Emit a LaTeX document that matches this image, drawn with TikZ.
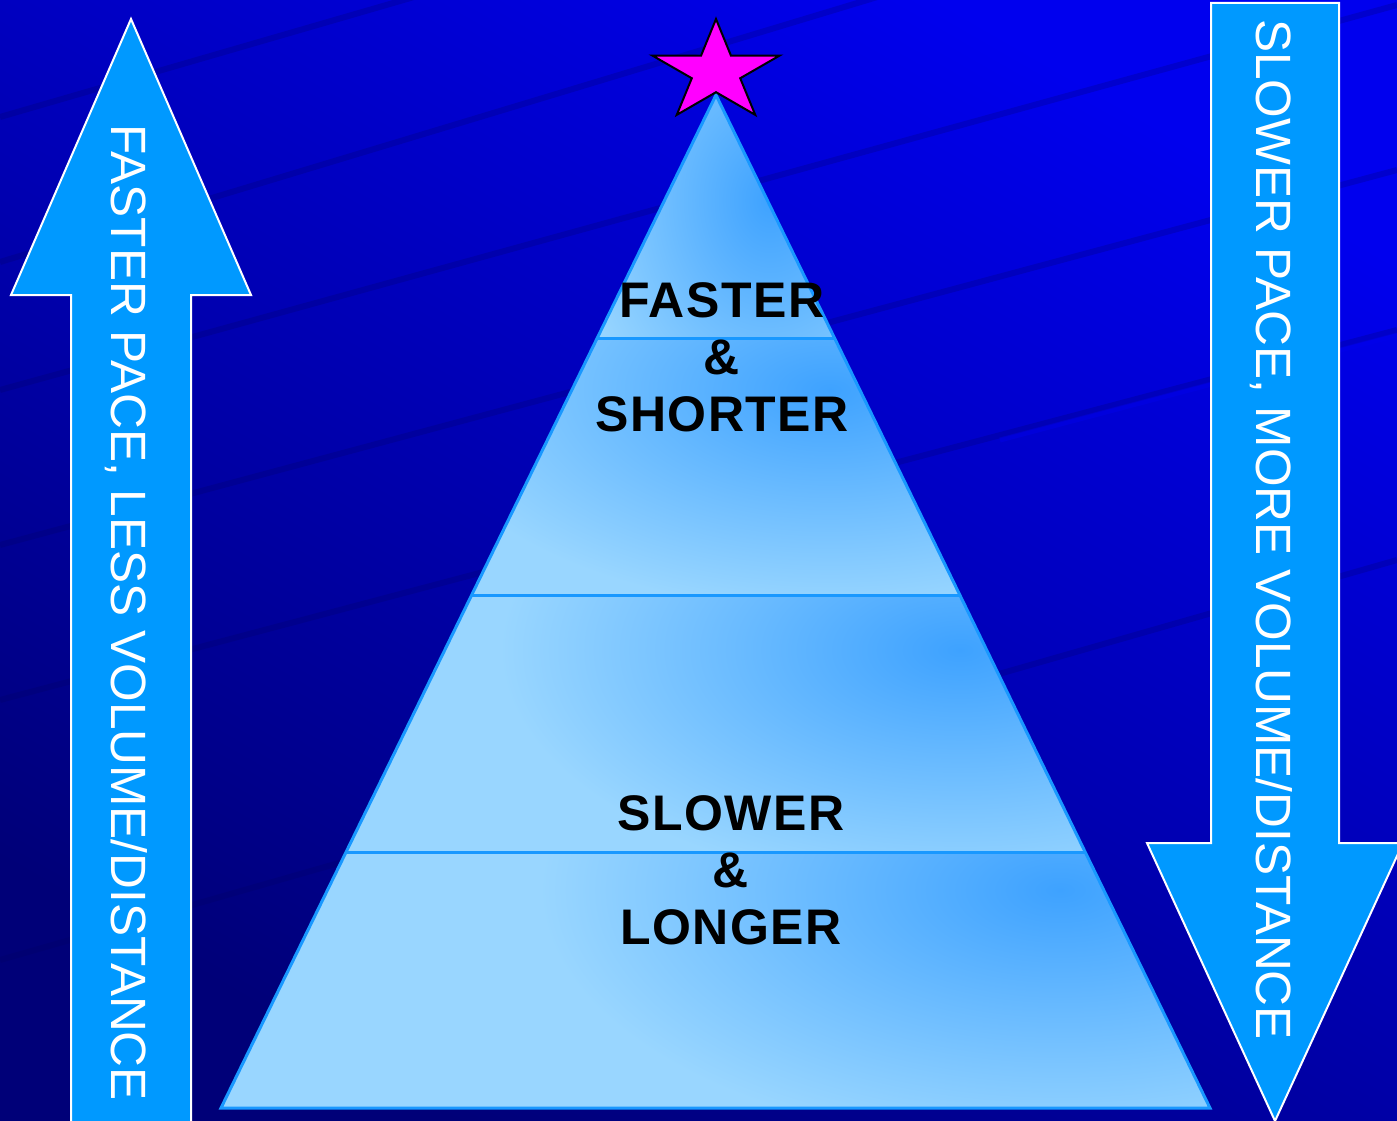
\documentclass[tikz,border=0pt]{standalone}
\usepackage{fontspec}
\setmainfont{Liberation Sans}
\usetikzlibrary{calc}
\definecolor{bgtop}{RGB}{0,0,238}
\definecolor{bgbot}{RGB}{0,0,120}
\definecolor{stripe}{RGB}{0,0,95}
\definecolor{arrowblue}{RGB}{0,153,255}
\definecolor{pyrlight}{RGB}{153,214,255}
\definecolor{pyrdark}{RGB}{62,162,255}
\definecolor{pyredge}{RGB}{25,152,255}
\definecolor{starpink}{RGB}{255,0,255}
\begin{document}
\begin{tikzpicture}[x=1pt,y=-1pt,
  bigarrow/.style={fill=arrowblue,draw=white,line width=2pt,line join=miter},
  sidetext/.style={white,rotate=-90,inner sep=0pt,font=\fontsize{49.6}{57}\selectfont},
  pyrtext/.style={black,align=center,inner sep=0pt,font=\fontsize{50}{57}\selectfont\bfseries\addfontfeature{LetterSpace=3}},
  pyrline/.style={pyredge,line width=3pt}]
  \clip (0,0) rectangle (1397,1121);
  \shade[top color=bgtop,bottom color=bgbot,shading angle=-30] (0,0) rectangle (1397,1121);
  \foreach \ya/\yb in {117/-288, 262/-160, 390/5, 545/170, 700/330, 960/560}
    \draw[stripe,opacity=0.22,line width=6pt] (0,\ya) -- (1397,\yb);
  \draw[bgtop,opacity=0.4,line width=5pt] (1000,440) -- (1397,335);
  % arrows
  \draw[bigarrow] (131,19) -- (251,295) -- (191,295) -- (191,1130) -- (71,1130) -- (71,295) -- (11,295) -- cycle;
  \draw[bigarrow] (1211,3) -- (1339,3) -- (1339,843) -- (1403,843) -- (1275,1121) -- (1147,843) -- (1211,843) -- cycle;
  \node[sidetext,anchor=base west] (fastpace) at (111,124) {FASTER PACE, LESS VOLUME/DISTANCE};
  \node[sidetext,anchor=base west] (slowpace) at (1256,19) {SLOWER PACE, MORE VOLUME/DISTANCE};
  % pyramid
  \coordinate (apex) at (716,95);
  \coordinate (bl) at (221,1108);
  \coordinate (br) at (1210,1108);
  \foreach \a/\b/\cx/\cy/\rx/\ry in {0/0.2399/770/200/200/260, 0.2399/0.4936/830/390/420/220,
      0.4936/0.7473/960/650/460/240, 0.7473/1/1060/890/520/260} {
    \begin{scope}
      \clip ($(apex)!\a!(bl)$) -- ($(apex)!\b!(bl)$) -- ($(apex)!\b!(br)$) -- ($(apex)!\a!(br)$) -- cycle;
      \fill[pyrlight] (0,0) rectangle (1397,1121);
      \shade[inner color=pyrdark,outer color=pyrlight] (\cx,\cy) ellipse [x radius=\rx,y radius=\ry];
    \end{scope}
  }
  \foreach \t in {0.2399,0.4936,0.7473}
    \draw[pyrline] ($(apex)!\t!(bl)$) -- ($(apex)!\t!(br)$);
  \draw[pyrline] (apex) -- (bl) -- (br) -- cycle;
  \begin{scope}[shift={(716,72)},xscale=1.26]
    \draw[fill=starpink,draw=black,line width=2pt] (-90:53)
      \foreach \i in {0,...,4} { -- ({-54+72*\i}:20.2) -- ({-18+72*\i}:53) } -- cycle;
  \end{scope}
  \node[pyrtext] (fast) at (722,357) {FASTER\\\&\\SHORTER};
  \node[pyrtext] (slow) at (731,870) {SLOWER\\\&\\LONGER};
\end{tikzpicture}
\end{document}
